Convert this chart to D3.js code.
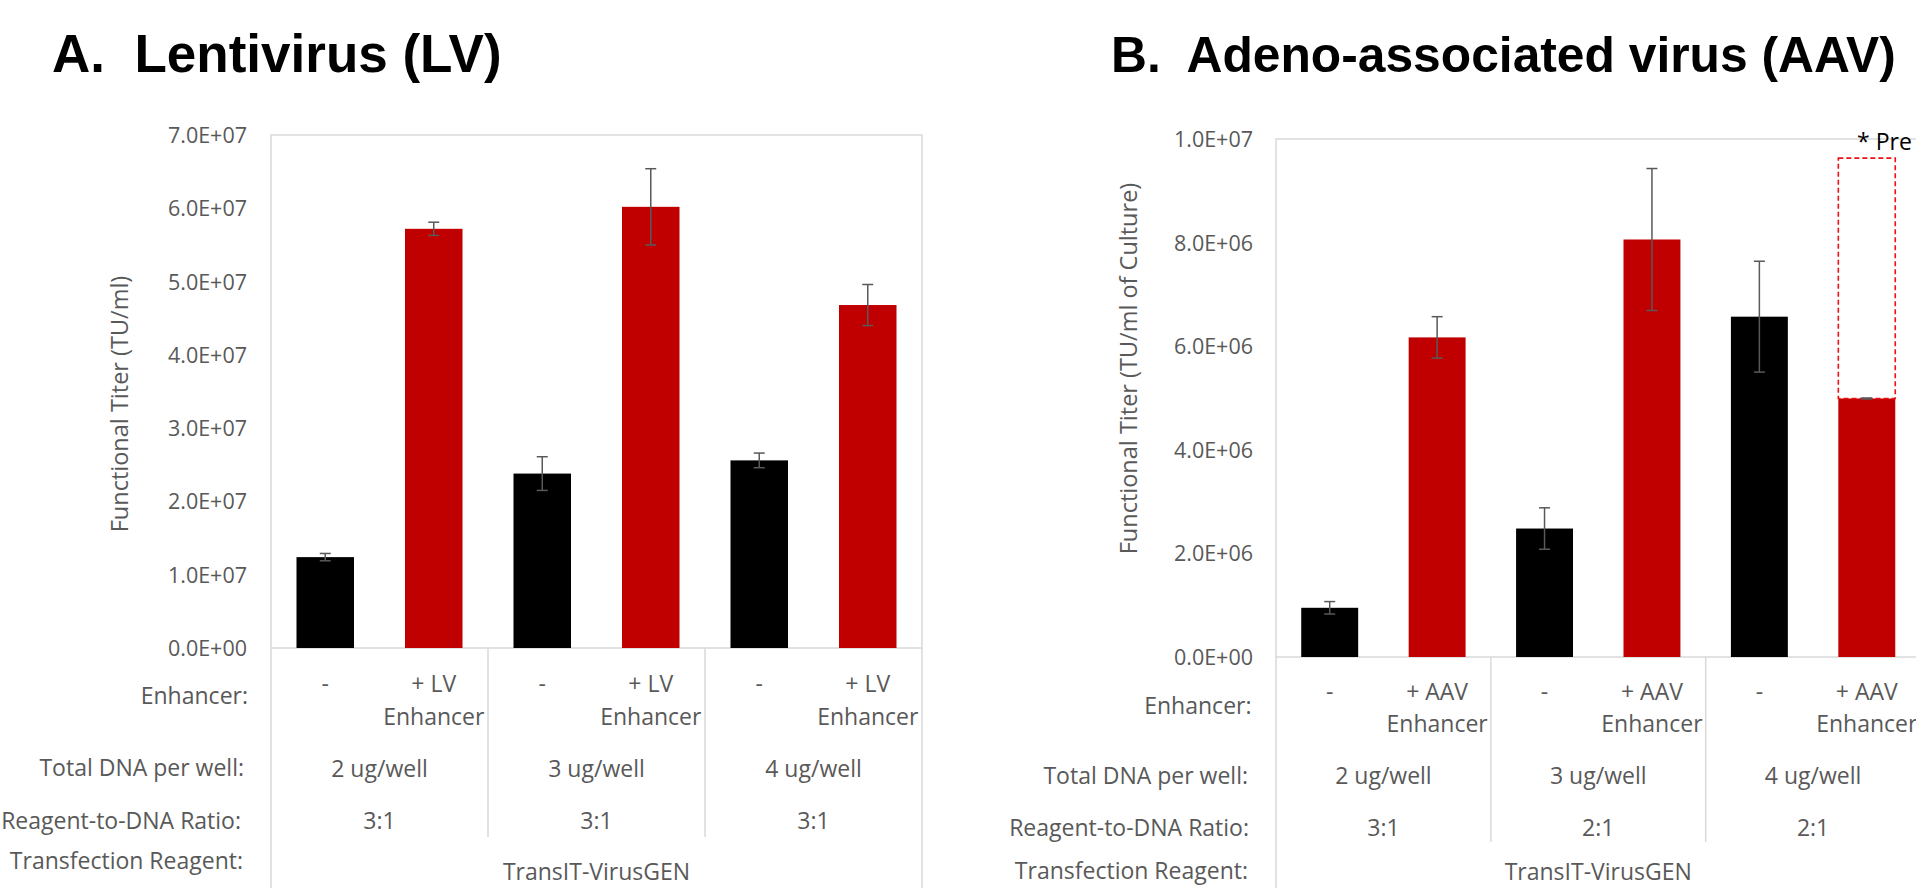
<!DOCTYPE html>
<html>
<head>
<meta charset="utf-8">
<script src="https://cdn.jsdelivr.net/npm/d3@7"></script>
<style>
html, body { margin: 0; padding: 0; background: #ffffff; overflow: hidden; }
svg { display: block; }
</style>
</head>
<body>
<svg id="chart" width="1916" height="888"></svg>
<script>
// ---------------- DATA ----------------
const rowLabels = ["Enhancer:", "Total DNA per well:", "Reagent-to-DNA Ratio:", "Transfection Reagent:"];
const reagentLabel = "TransIT-VirusGEN";

// Panel A: Lentivirus
const lvTitle = "A.  Lentivirus (LV)";
const lvAxisTitle = "Functional Titer (TU/ml)";
const lvEnhancer = ["-", "+ LV\nEnhancer", "-", "+ LV\nEnhancer", "-", "+ LV\nEnhancer"];
const lvTiter = [1.24e7, 5.72e7, 2.38e7, 6.02e7, 2.56e7, 4.68e7];
const lvError = [0.05e7, 0.09e7, 0.23e7, 0.52e7, 0.10e7, 0.28e7];
const lvDNA = ["2 ug/well", "3 ug/well", "4 ug/well"];
const lvRatio = ["3:1", "3:1", "3:1"];
const lvTicks = [0, 1e7, 2e7, 3e7, 4e7, 5e7, 6e7, 7e7];

// Panel B: Adeno-associated virus
const aavTitle = "B.  Adeno-associated virus (AAV)";
const aavAxisTitle = "Functional Titer (TU/ml of Culture)";
const aavEnhancer = ["-", "+ AAV\nEnhancer", "-", "+ AAV\nEnhancer", "-", "+ AAV\nEnhancer"];
const aavTiter = [0.95e6, 6.17e6, 2.48e6, 8.06e6, 6.57e6, 4.99e6];
const aavError = [0.12e6, 0.40e6, 0.40e6, 1.37e6, 1.07e6, 0.01e6];
const aavPredicted = [null, null, null, null, null, 9.63e6];
const aavNote = "* Pre";
const aavDNA = ["2 ug/well", "3 ug/well", "4 ug/well"];
const aavRatio = ["3:1", "2:1", "2:1"];
const aavTicks = [0, 2e6, 4e6, 6e6, 8e6, 1e7];

// ---------------- STYLE ----------------
const FONT = "'Open Sans', 'Noto Sans', sans-serif";
const TITLE_FONT = "'Liberation Sans', Arial, sans-serif";
const GRAY = "#595959";
const BORDER = "#d9d9d9";
const RED = "#C00000";
const BLACK = "#000000";

const svg = d3.select("#chart");

function fmtExp(v) {
  const parts = v.toExponential(1).split("e");
  const sign = parts[1][0] === "-" ? "-" : "+";
  const n = Math.abs(+parts[1]);
  return parts[0] + "E" + sign + String(n).padStart(2, "0");
}

function drawPanel(p) {
  const g = svg.append("g");
  const n = p.values.length;
  const x = d3.scaleBand().domain(d3.range(n)).range([p.x0, p.x1])
    .paddingInner(0.47).paddingOuter(0.235);
  const y = d3.scaleLinear().domain([0, p.max]).range([p.yBase, p.yTop]);
  const bw = x.bandwidth();
  const cx = i => x(i) + bw / 2;

  // title
  const t = g.append("text").attr("x", p.titleX).attr("y", p.titleY)
    .attr("font-family", TITLE_FONT).attr("font-weight", "bold")
    .attr("font-size", 53).attr("fill", "#000")
    .style("white-space", "pre").attr("xml:space", "preserve").text(p.title);
  if (p.titleMaxW) {
    const w = t.node().getComputedTextLength();
    if (w > p.titleMaxW) t.attr("font-size", 53 * p.titleMaxW / w);
  }

  // plot border
  g.append("rect").attr("x", p.x0).attr("y", y(p.max))
    .attr("width", p.x1 - p.x0).attr("height", y(0) - y(p.max))
    .attr("fill", "none").attr("stroke", BORDER).attr("stroke-width", 1.5);

  // y axis
  const ax = g.append("g").attr("transform", `translate(${p.x0},0)`)
    .call(d3.axisLeft(y).tickValues(p.ticks).tickFormat(fmtExp)
      .tickSize(0).tickPadding(p.x0 - p.tickRight));
  ax.select(".domain").remove();
  ax.selectAll("text").attr("font-family", FONT).attr("font-size", 21.5)
    .attr("fill", GRAY).attr("dy", "0.35em");

  // axis title
  g.append("text")
    .attr("transform", `translate(${p.axTitleX},${p.axTitleY}) rotate(-90)`)
    .attr("text-anchor", "middle").attr("dominant-baseline", "central")
    .attr("font-family", FONT).attr("font-size", 23.5).attr("fill", GRAY)
    .text(p.axisTitle);

  // bars
  g.selectAll("rect.bar").data(p.values).join("rect").attr("class", "bar")
    .attr("x", (d, i) => x(i)).attr("width", bw)
    .attr("y", d => y(d)).attr("height", d => y(0) - y(d))
    .attr("fill", (d, i) => (i % 2 ? RED : BLACK));

  // predicted (dashed)
  if (p.predicted) {
    p.predicted.forEach((pv, i) => {
      if (pv == null) return;
      g.append("rect").attr("x", x(i)).attr("width", bw)
        .attr("y", y(pv)).attr("height", y(p.values[i]) - y(pv))
        .attr("fill", "none").attr("stroke", "#ee1111")
        .attr("stroke-width", 1.6).attr("stroke-dasharray", "5,3");
    });
  }
  if (p.note) {
    g.append("text").attr("x", p.noteX).attr("y", p.noteY)
      .attr("font-family", FONT).attr("font-size", 23).attr("fill", "#000")
      .text(p.note);
  }

  // error bars
  const cap = 5.5;
  p.values.forEach((v, i) => {
    const e = p.errors[i];
    const xc = cx(i);
    const eg = g.append("g").attr("stroke", GRAY).attr("stroke-width", 1.5);
    eg.append("line").attr("x1", xc).attr("x2", xc).attr("y1", y(v + e)).attr("y2", y(v - e));
    eg.append("line").attr("x1", xc - cap).attr("x2", xc + cap).attr("y1", y(v + e)).attr("y2", y(v + e));
    eg.append("line").attr("x1", xc - cap).attr("x2", xc + cap).attr("y1", y(v - e)).attr("y2", y(v - e));
  });

  // category table lines
  const lines = g.append("g").attr("stroke", BORDER).attr("stroke-width", 1.5);
  lines.append("line").attr("x1", p.x0).attr("x2", p.x0).attr("y1", y(0)).attr("y2", 888);
  lines.append("line").attr("x1", p.x1).attr("x2", p.x1).attr("y1", y(0)).attr("y2", 888);
  for (let k = 1; k < p.dna.length; k++) {
    const bx = (x(2 * k - 1) + bw + x(2 * k)) / 2;
    lines.append("line").attr("x1", bx).attr("x2", bx).attr("y1", y(0)).attr("y2", p.sepBottom);
  }

  const txt = (xx, yy, s, anchor) => g.append("text").attr("x", xx).attr("y", yy)
    .attr("text-anchor", anchor || "middle").attr("dominant-baseline", "central")
    .attr("font-family", FONT).attr("font-size", 23).attr("fill", GRAY).text(s);

  // row labels
  rowLabels.forEach((s, r) => txt(p.rowRight[r], p.rowY[r], s, "end"));

  // enhancer labels
  p.enhancer.forEach((s, i) => {
    const parts = s.split("\n");
    parts.forEach((ln, j) => txt(cx(i), j === 0 ? p.enh1 : p.enh2, ln));
  });
  // DNA and ratio labels
  p.dna.forEach((s, k) => {
    const gx = (x(2 * k) + x(2 * k + 1) + bw) / 2;
    txt(gx, p.dnaY, s);
    txt(gx, p.ratioY, p.ratio[k]);
  });
  // reagent
  txt((p.x0 + p.x1) / 2, p.reagentY, reagentLabel);
}

drawPanel({
  title: lvTitle, titleX: 52, titleY: 71.5,
  axisTitle: lvAxisTitle, axTitleX: 119, axTitleY: 404,
  values: lvTiter, errors: lvError, enhancer: lvEnhancer, dna: lvDNA, ratio: lvRatio,
  ticks: lvTicks, max: 7e7,
  x0: 271, x1: 922, yTop: 135, yBase: 648, tickRight: 247,
  rowRight: [248, 244, 241, 243], rowY: [695, 767, 820, 860],
  enh1: 683, enh2: 716, dnaY: 768, ratioY: 820, reagentY: 871, sepBottom: 837
});

drawPanel({
  title: aavTitle, titleX: 1111, titleY: 71.5, titleMaxW: 785,
  axisTitle: aavAxisTitle, axTitleX: 1128, axTitleY: 368.5,
  values: aavTiter, errors: aavError, predicted: aavPredicted,
  note: aavNote, noteX: 1857, noteY: 150,
  enhancer: aavEnhancer, dna: aavDNA, ratio: aavRatio,
  ticks: aavTicks, max: 1e7,
  x0: 1276, x1: 1920.5, yTop: 139, yBase: 657, tickRight: 1253,
  rowRight: [1251.5, 1248, 1249, 1248], rowY: [705, 775, 827, 870],
  enh1: 691, enh2: 723, dnaY: 775, ratioY: 827, reagentY: 871, sepBottom: 842
});
</script>
</body>
</html>
